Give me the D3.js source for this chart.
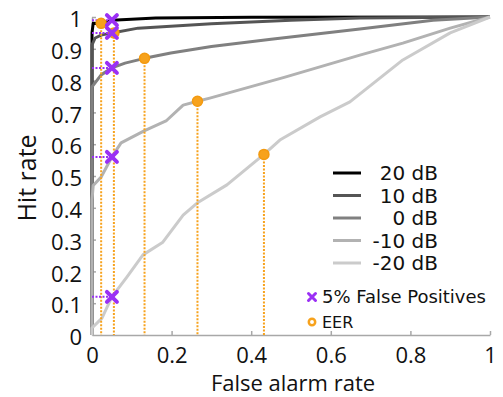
<!DOCTYPE html>
<html lang="en">
<head>
<meta charset="utf-8">
<title></title>
<style>
  body { margin: 0; background: #fff; }
  .axis path, .axis line { stroke: #a8a8a8; stroke-width: 1.5; }
  .axis text { font-family: "Open Sans", sans-serif; font-size: 22px; fill: #111; }
</style>
</head>
<body>
<div id="container"></div>
<script src="https://cdnjs.cloudflare.com/ajax/libs/d3/7.8.5/d3.min.js"></script>
<script>
// series names (legend order)
var snr = ["20 dB", "10 dB", "0 dB", "-10 dB", "-20 dB"];

// ROC curves: [false alarm rate, hit rate]
var roc20 = [[0, 0], [0, 0.95], [0.003, 0.98], [0.023, 0.979], [0.05, 0.99], [0.16, 0.997], [0.4, 0.999], [1, 1]];
var roc10 = [[0, 0], [0, 0.912], [0.008, 0.934], [0.023, 0.943], [0.05, 0.95], [0.116, 0.965], [0.3, 0.979], [0.5, 0.99], [0.673, 0.997], [1, 1]];
var roc0 = [[0, 0], [0, 0.78], [0.023, 0.818], [0.05, 0.84], [0.083, 0.855], [0.132, 0.87], [0.198, 0.887], [0.3, 0.907], [0.45, 0.93], [0.673, 0.962], [0.857, 0.99], [1, 1]];
var rocM10 = [[0, 0], [0, 0.425], [0.003, 0.47], [0.023, 0.497], [0.05, 0.56], [0.073, 0.604], [0.131, 0.642], [0.186, 0.673], [0.229, 0.723], [0.265, 0.735], [0.296, 0.745], [0.485, 0.811], [0.673, 0.88], [0.781, 0.918], [0.9, 0.965], [1, 1]];
var rocM20 = [[0, 0], [0, 0.022], [0.025, 0.053], [0.05, 0.12], [0.088, 0.183], [0.128, 0.252], [0.178, 0.292], [0.229, 0.377], [0.264, 0.415], [0.339, 0.472], [0.432, 0.568], [0.472, 0.613], [0.573, 0.686], [0.648, 0.733], [0.781, 0.865], [0.9, 0.95], [1, 1]];

// equal error rate points
var eerX = [0.023, 0.055, 0.132, 0.265, 0.432];
var eerY = [0.98, 0.95, 0.87, 0.735, 0.568];

// hit rate at 5% false positives
var fp5X = [0.05, 0.05, 0.05, 0.05, 0.05];
var fp5Y = [0.99, 0.95, 0.84, 0.56, 0.12];

var xTicks = [0, 0.2, 0.4, 0.6, 0.8, 1];
var yTicks = [0, 0.1, 0.2, 0.3, 0.4, 0.5, 0.6, 0.7, 0.8, 0.9, 1];

var curves = [roc20, roc10, roc0, rocM10, rocM20];
var lineColors = ["#000000", "#555555", "#808080", "#b2b2b2", "#cbcbcb"];
var orange = "#f7a21c", purple = "#9b30f5";

var W = 503, H = 397;
var svg = d3.select("#container").append("svg")
  .attr("width", W).attr("height", H);

var x = d3.scaleLinear().domain([0, 1]).range([92, 490]);
var y = d3.scaleLinear().domain([0, 1]).range([335, 17]);

// axes
var gx = svg.append("g").attr("class", "axis")
  .attr("transform", "translate(0," + y(0) + ")")
  .call(d3.axisBottom(x).tickValues(xTicks).tickFormat(d3.format("")).tickSizeInner(-4).tickSizeOuter(0).tickPadding(12));
var gy = svg.append("g").attr("class", "axis")
  .attr("transform", "translate(" + x(0) + ",0)")
  .call(d3.axisLeft(y).tickValues(yTicks).tickFormat(d3.format("")).tickSizeInner(-4).tickSizeOuter(0).tickPadding(10));
gy.selectAll("text").attr("dy", "0.44em");
gx.select(".tick line").remove();
gy.select(".tick line").remove();

svg.append("text")
  .attr("x", 293).attr("y", 391)
  .attr("text-anchor", "middle")
  .style("font-family", "Open Sans, sans-serif").style("font-size", "22px").style("fill", "#111")
  .text("False alarm rate");
svg.append("text")
  .attr("transform", "translate(36,178) rotate(-90)")
  .attr("text-anchor", "middle")
  .style("font-family", "Open Sans, sans-serif").style("font-size", "25px").style("fill", "#111")
  .text("Hit rate");

// curves
var line = d3.line().x(function(d) { return x(d[0]); }).y(function(d) { return y(d[1]); });
svg.append("g").selectAll("path")
  .data(curves)
  .enter().append("path")
  .attr("d", line)
  .attr("fill", "none")
  .attr("stroke", function(d, i) { return lineColors[i]; })
  .attr("stroke-width", 3)
  .attr("stroke-linejoin", "round");

// guide lines
svg.append("g").selectAll("line")
  .data(eerX)
  .enter().append("line")
  .attr("x1", function(d) { return x(d); }).attr("x2", function(d) { return x(d); })
  .attr("y1", function(d, i) { return y(eerY[i]); }).attr("y2", y(0))
  .attr("stroke", orange).attr("stroke-width", 2).attr("stroke-dasharray", "2,1.5");
svg.append("g").selectAll("line")
  .data(fp5Y)
  .enter().append("line")
  .attr("x1", x(0)).attr("x2", function(d, i) { return x(fp5X[i]); })
  .attr("y1", function(d) { return y(d); }).attr("y2", function(d) { return y(d); })
  .attr("stroke", purple).attr("stroke-width", 2).attr("stroke-dasharray", "2,1.5");

// markers
svg.append("g").selectAll("circle")
  .data(eerX)
  .enter().append("circle")
  .attr("cx", function(d) { return x(d); })
  .attr("cy", function(d, i) { return y(eerY[i]); })
  .attr("r", 5)
  .attr("fill", orange).attr("stroke", "#f39a10").attr("stroke-width", 1.5);

function cross(g, cx, cy, s, w) {
  g.append("path")
    .attr("d", "M" + (cx - s) + "," + (cy - s) + "L" + (cx + s) + "," + (cy + s) +
               "M" + (cx - s) + "," + (cy + s) + "L" + (cx + s) + "," + (cy - s))
    .attr("stroke", purple).attr("stroke-width", w).attr("stroke-linecap", "round");
}
var gm = svg.append("g");
fp5X.forEach(function(d, i) { cross(gm, x(d), y(fp5Y[i]), 5, 4); });

// legend
var lg = svg.append("g");
var rowY = d3.scaleLinear().domain([0, 4]).range([173, 263]);
snr.forEach(function(name, i) {
  lg.append("line")
    .attr("x1", 333).attr("x2", 361)
    .attr("y1", rowY(i)).attr("y2", rowY(i))
    .attr("stroke", lineColors[i]).attr("stroke-width", 3);
  lg.append("text")
    .attr("x", 438).attr("y", rowY(i)).attr("dy", "0.35em")
    .attr("text-anchor", "end")
    .style("font-family", "DejaVu Sans, sans-serif").style("font-size", "20px").style("fill", "#111")
    .text(name);
});
cross(lg, 312, 297, 3.5, 3);
lg.append("text")
  .attr("x", 322).attr("y", 297).attr("dy", "0.35em")
  .style("font-family", "DejaVu Sans, sans-serif").style("font-size", "18px").style("fill", "#111")
  .text("5% False Positives");
lg.append("circle")
  .attr("cx", 312).attr("cy", 322).attr("r", 3.2)
  .attr("fill", "none").attr("stroke", orange).attr("stroke-width", 2.5);
lg.append("text")
  .attr("x", 322).attr("y", 322).attr("dy", "0.35em")
  .style("font-family", "DejaVu Sans, sans-serif").style("font-size", "16px").style("fill", "#111")
  .text("EER");
</script>
</body>
</html>
